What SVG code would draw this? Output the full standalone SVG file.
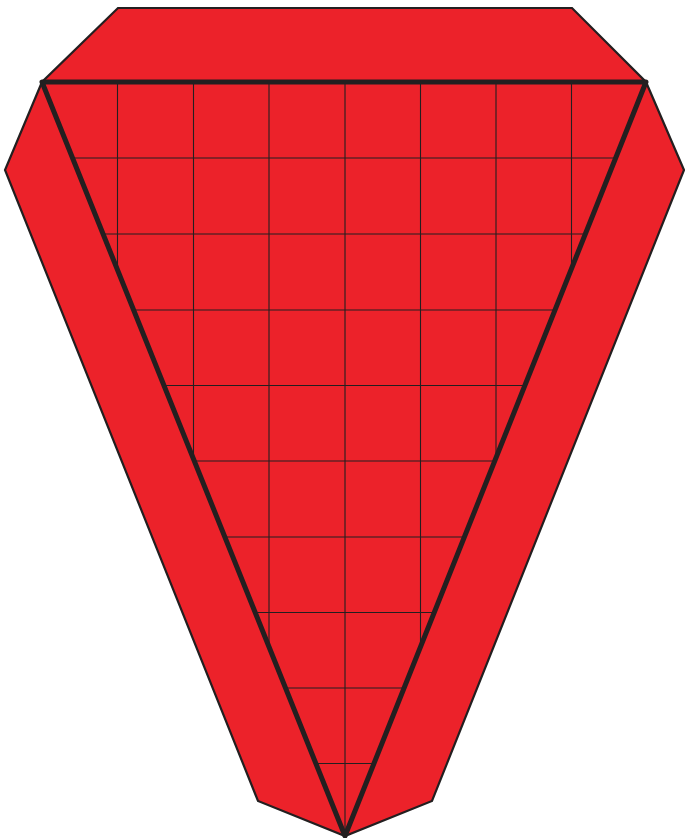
<svg xmlns="http://www.w3.org/2000/svg" width="685" height="838" viewBox="0 0 685 838">
<style>
.fill{fill:#EC222A;stroke:#231F20;stroke-width:2.2;stroke-linejoin:miter}
.grid{stroke:#231F20;stroke-width:1.1;fill:none}
.tri{fill:none;stroke:#231F20;stroke-width:5;stroke-linejoin:round}
</style>
<defs>
<clipPath id="tc"><polygon points="42,82 646,82 345,836"/></clipPath>
</defs>
<g id="outer">
<polygon class="fill" points="118,8 572,8 646,82 684,170 432,801 345,836 258,801 5,170 42,82"/>
</g>
<g id="grid" clip-path="url(#tc)">
<path class="grid" d="M117.5,80V840M193.5,80V840M269,80V840M345,80V840M420.5,80V840M496,80V840M571.5,80V840M30,158H660M30,234H660M30,310H660M30,385.5H660M30,461H660M30,537H660M30,612.5H660M30,688H660M30,763.5H660"/>
</g>
<g id="triangle">
<polygon class="tri" points="42,82 646,82 345,836"/>
</g>
</svg>
